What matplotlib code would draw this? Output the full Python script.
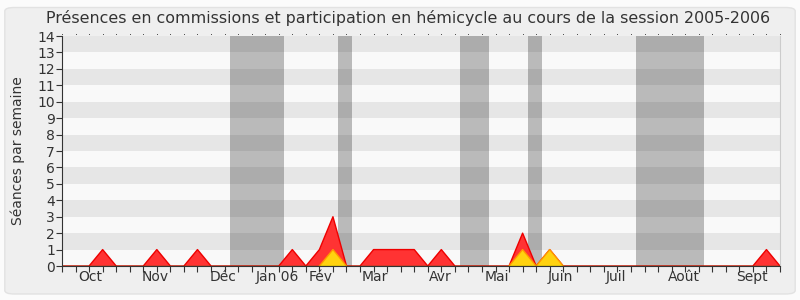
import matplotlib
matplotlib.use("Agg")
import matplotlib.pyplot as plt
from matplotlib.patches import FancyBboxPatch
import numpy as np

# Weekly data (week index 0..53, session 2005-2006)
weeks = list(range(54))
red_values = [0]*54
for k, v in {3: 1, 7: 1, 10: 1, 17: 1, 19: 1, 20: 3, 23: 1, 24: 1, 25: 1, 26: 1,
             28: 1, 34: 2, 36: 1, 52: 1}.items():
    red_values[k] = v
yellow_values = [0]*54
for k, v in {20: 1, 34: 1, 36: 1}.items():
    yellow_values[k] = v
green_values = [0]*54

month_labels = ["Oct", "Nov", "Déc", "Jan 06", "Fév", "Mar", "Avr", "Mai",
                "Juin", "Juil", "Août", "Sept"]
month_positions = [2.1, 6.9, 11.9, 15.9, 19.1, 23.1, 27.9, 32.1, 36.8, 40.9, 45.9, 50.9]
vacations = [(12.4, 16.4), (20.4, 21.4), (29.4, 31.5), (34.4, 35.4), (42.4, 47.4)]

title = "Présences en commissions et participation en hémicycle au cours de la session 2005-2006"
ylabel = "Séances par semaine"
ymax = 14

fig = plt.figure(figsize=(8, 3), dpi=100)
fig.patch.set_facecolor("#fbfbfb")
panel = FancyBboxPatch((0.006, 0.02), 0.988, 0.955, boxstyle="round,pad=0,rounding_size=0.012",
                       transform=fig.transFigure, facecolor="#efefef", edgecolor="#e2e2e2",
                       linewidth=1.0, zorder=-5)
fig.patches.append(panel)

ax = fig.add_axes([0.0775, 0.1133, 0.8975, 0.7667])
ax.set_zorder(1)
ax.set_facecolor("#f9f9f9")
ax.set_xlim(0, 53)
ax.set_ylim(0, ymax)

for y0 in range(1, ymax, 2):
    ax.axhspan(y0, y0 + 1, color="#e6e6e6", zorder=0.5, lw=0)
for a, b in vacations:
    ax.axvspan(a, b, color="black", alpha=0.25, zorder=1, lw=0)

x = np.array(weeks)
ax.fill_between(x, red_values, 0, facecolor="#ff3333", edgecolor="none", lw=0, zorder=2)
ax.plot(x, red_values, color="#ee0000", lw=1, zorder=2.1)
ax.fill_between(x, yellow_values, 0, facecolor="#ffd20f", edgecolor="none", lw=0, zorder=3)
yv = np.array(yellow_values, dtype=float)
ax.plot(x, np.ma.masked_where((yv == 0) & (np.roll(yv, 1) == 0) & (np.roll(yv, -1) == 0), yv),
        color="#ff9900", lw=1, zorder=3.1)
ax.plot(x, green_values, color="#336600", lw=1, alpha=0.8, zorder=4)

ax.set_yticks(range(0, ymax + 1))
ax.tick_params(axis="y", labelsize=10, length=4, color="#333333", labelcolor="#333333", pad=1)
ax.set_xticks(weeks)
ax.set_xticklabels([])
ax.tick_params(axis="x", which="major", length=4, color="#333333", top=False, direction="out")
ax.set_xticks(month_positions, minor=True)
ax.set_xticklabels(month_labels, minor=True)
ax.tick_params(axis="x", which="minor", length=0, labelsize=10, labelcolor="#333333", pad=3)

ax.spines["top"].set_visible(False)
ax.spines["right"].set_color("#cccccc")
ax.spines["left"].set_color("#333333")
ax.spines["bottom"].set_color("#333333")

# small dots at top for each week
ax.plot(x, [ymax + 0.1] * len(x), linestyle="none", marker="s", markersize=0.6,
        markeredgewidth=0, color="#444444", clip_on=False, zorder=5)

ax.set_ylabel(ylabel, fontsize=10, color="#333333", labelpad=9)
fig.text(0.51, 0.94, title, ha="center", va="center", fontsize=11.4, color="#333333")

fig.savefig("out.png", dpi=100, facecolor=fig.get_facecolor())
